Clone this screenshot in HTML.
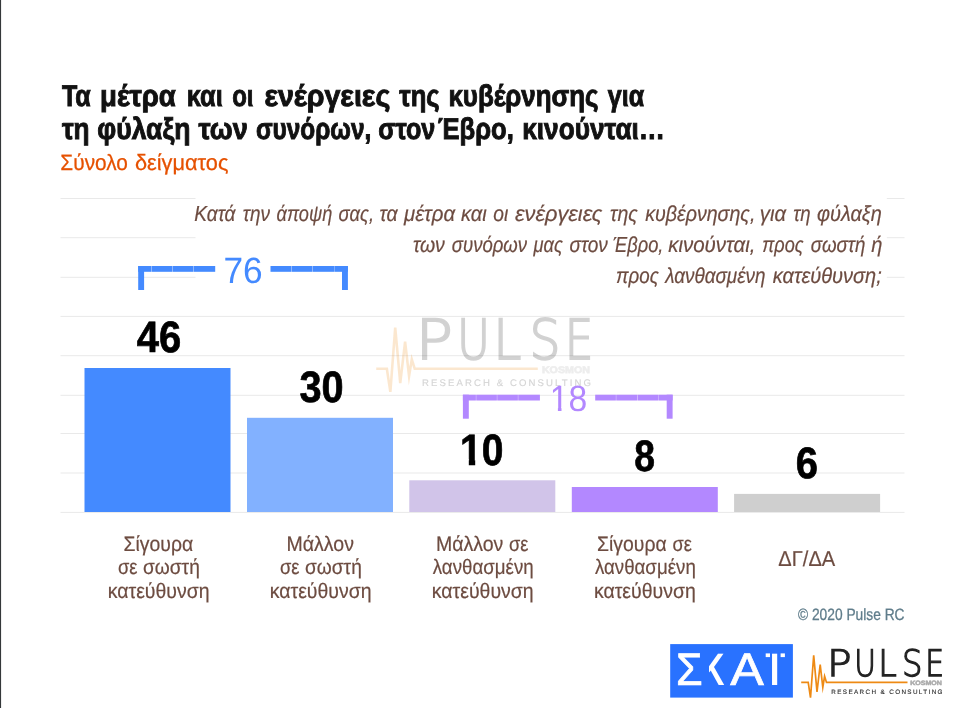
<!DOCTYPE html>
<html lang="el">
<head>
<meta charset="utf-8">
<title>Pulse RC – Έβρος</title>
<style>
html,body{margin:0;padding:0;background:#fff;}
body{width:954px;height:708px;overflow:hidden;font-family:"Liberation Sans",sans-serif;}
svg{display:block;}
svg text{font-family:"Liberation Sans",sans-serif;text-rendering:geometricPrecision;}
</style>
</head>
<body>
<svg width="954" height="708" viewBox="0 0 954 708">
<rect x="0" y="0" width="954" height="708" fill="#ffffff"/>
<!-- left frame edge -->
<rect x="0" y="0" width="1.08" height="708" fill="#34383a"/>
<!-- gridlines -->
<g fill="#e9e9e9">
<rect x="60.5" y="198" width="844" height="1"/>
<rect x="60.5" y="237.2" width="844" height="1"/>
<rect x="60.5" y="276.8" width="844" height="1"/>
<rect x="60.5" y="315.9" width="844" height="1"/>
<rect x="60.5" y="355.2" width="844" height="1"/>
<rect x="60.5" y="394.8" width="844" height="1"/>
<rect x="60.5" y="433" width="844" height="1"/>
<rect x="60.5" y="472.5" width="844" height="1"/>
<rect x="60.5" y="511.9" width="844" height="1"/>
</g>
<!-- question text backdrop -->
<rect x="195.5" y="190" width="691.3" height="100" fill="#ffffff"/>
<!-- watermark -->
<g opacity="0.2" transform="translate(-841.6,-668.5) scale(1.52)">
<path d="M801.2 682.4 H808.2 L810.5 697.6 L813.7 655.3 L817 691.9 L820.2 664.5 L822.8 687.3 L824.6 676.3 L826.5 682.4 H907.5" fill="none" stroke="#EE8A14" stroke-width="1.7" stroke-linejoin="miter" stroke-miterlimit="8"/>
<text font-size="36.4" style='font-family:"DejaVu Sans Light", "DejaVu Sans", sans-serif' fill="#222222" stroke="#222222" stroke-width="1.3"><tspan x="826.99" y="675.8" textLength="24.64" lengthAdjust="spacingAndGlyphs">P</tspan><tspan x="854.35" textLength="21.71" lengthAdjust="spacingAndGlyphs">U</tspan><tspan x="878.28" textLength="18.51" lengthAdjust="spacingAndGlyphs">L</tspan><tspan x="901.99" textLength="20.39" lengthAdjust="spacingAndGlyphs">S</tspan><tspan x="925.23" textLength="18.81" lengthAdjust="spacingAndGlyphs">E</tspan></text>
<text x="910.2" y="685.1" font-size="6.3" font-weight="700" fill="#ababab" stroke="#ababab" stroke-width="0.5" textLength="31.6" lengthAdjust="spacingAndGlyphs">KOSMON</text>
<text x="831.3" y="694" font-size="6.3" fill="#2b2b2b" stroke="#2b2b2b" stroke-width="0.12" textLength="111.2" lengthAdjust="spacing">RESEARCH &amp; CONSULTING</text>
</g>
<!-- bars -->
<rect x="84.5" y="368" width="146" height="144" fill="#448AFF"/>
<rect x="247" y="417.8" width="146" height="94.2" fill="#82B1FF"/>
<rect x="409.3" y="480.3" width="146" height="31.7" fill="#D1C4E9"/>
<rect x="571.8" y="487" width="146" height="25" fill="#B388FF"/>
<rect x="734.1" y="493.9" width="146" height="18.1" fill="#CFCFCF"/>
<!-- sum brackets -->
<g fill="#448AFF">
<rect x="138.2" y="266" width="5.9" height="24"/>
<rect x="138.2" y="266" width="13" height="5.8"/>
<rect x="151.5" y="266" width="20.7" height="5.8"/>
<rect x="172.5" y="266" width="20.7" height="5.8"/>
<rect x="193.5" y="266" width="21.7" height="5.8"/>
<rect x="270.5" y="266" width="20.7" height="5.8"/>
<rect x="291.5" y="266" width="21" height="5.8"/>
<rect x="312.8" y="266" width="21.2" height="5.8"/>
<rect x="334.3" y="266" width="13.6" height="5.8"/>
<rect x="342" y="266" width="5.9" height="24"/>
</g>
<g fill="#B388FF">
<rect x="462.9" y="394.7" width="5.9" height="24"/>
<rect x="462.9" y="394.7" width="13" height="5.8"/>
<rect x="476.2" y="394.7" width="20.7" height="5.8"/>
<rect x="497.2" y="394.7" width="20.7" height="5.8"/>
<rect x="518.2" y="394.7" width="21.7" height="5.8"/>
<rect x="595.2" y="394.7" width="20.7" height="5.8"/>
<rect x="616.2" y="394.7" width="21" height="5.8"/>
<rect x="637.5" y="394.7" width="21.2" height="5.8"/>
<rect x="659" y="394.7" width="13.6" height="5.8"/>
<rect x="666.7" y="394.7" width="5.9" height="24"/>
</g>
<!-- text -->
<text font-size="30" font-weight="700" fill="#111111" stroke="#111111" stroke-width="0.95"><tspan x="61.91" y="106" textLength="28.81" lengthAdjust="spacingAndGlyphs">Τα</tspan> <tspan x="100.12" textLength="75.65" lengthAdjust="spacingAndGlyphs">μέτρα</tspan> <tspan x="186.83" textLength="35.88" lengthAdjust="spacingAndGlyphs">και</tspan> <tspan x="232.2" textLength="21.34" lengthAdjust="spacingAndGlyphs">οι</tspan> <tspan x="264.42" textLength="125.87" lengthAdjust="spacingAndGlyphs">ενέργειες</tspan> <tspan x="399.31" textLength="40.28" lengthAdjust="spacingAndGlyphs">της</tspan> <tspan x="448.41" textLength="150.08" lengthAdjust="spacingAndGlyphs">κυβέρνησης</tspan> <tspan x="607.82" textLength="36.24" lengthAdjust="spacingAndGlyphs">για</tspan></text>
<text font-size="30" font-weight="700" fill="#111111" stroke="#111111" stroke-width="0.95"><tspan x="61.92" y="139" textLength="27.64" lengthAdjust="spacingAndGlyphs">τη</tspan> <tspan x="97.34" textLength="93.08" lengthAdjust="spacingAndGlyphs">φύλαξη</tspan> <tspan x="198.43" textLength="49.34" lengthAdjust="spacingAndGlyphs">των</tspan> <tspan x="255.89" textLength="115.47" lengthAdjust="spacingAndGlyphs">συνόρων,</tspan> <tspan x="378.17" textLength="57.14" lengthAdjust="spacingAndGlyphs">στον</tspan> <tspan x="437.79" textLength="75.99" lengthAdjust="spacingAndGlyphs">Έβρο,</tspan> <tspan x="522.19" textLength="142.87" lengthAdjust="spacingAndGlyphs">κινούνται…</tspan></text>
<text font-size="22.1" fill="#E65100" stroke="#E65100" stroke-width="0.25"><tspan x="60.36" y="170" textLength="67.56" lengthAdjust="spacingAndGlyphs">Σύνολο</tspan> <tspan x="134.96" textLength="93.5" lengthAdjust="spacingAndGlyphs">δείγματος</tspan></text>
<text font-size="21.7" font-style="italic" fill="#6D4C41" stroke="#6D4C41" stroke-width="0.2"><tspan x="194.16" y="221" textLength="41.3" lengthAdjust="spacingAndGlyphs">Κατά</tspan> <tspan x="242.84" textLength="27.16" lengthAdjust="spacingAndGlyphs">την</tspan> <tspan x="276.58" textLength="55.73" lengthAdjust="spacingAndGlyphs">άποψή</tspan> <tspan x="338.38" textLength="35.66" lengthAdjust="spacingAndGlyphs">σας,</tspan> <tspan x="379.42" textLength="18.17" lengthAdjust="spacingAndGlyphs">τα</tspan> <tspan x="403.97" textLength="51.1" lengthAdjust="spacingAndGlyphs">μέτρα</tspan> <tspan x="460.97" textLength="25.79" lengthAdjust="spacingAndGlyphs">και</tspan> <tspan x="493.26" textLength="14.97" lengthAdjust="spacingAndGlyphs">οι</tspan> <tspan x="515.05" textLength="87.17" lengthAdjust="spacingAndGlyphs">ενέργειες</tspan> <tspan x="610.12" textLength="27.63" lengthAdjust="spacingAndGlyphs">της</tspan> <tspan x="645.17" textLength="110.23" lengthAdjust="spacingAndGlyphs">κυβέρνησης,</tspan> <tspan x="759.86" textLength="26.26" lengthAdjust="spacingAndGlyphs">για</tspan> <tspan x="793.26" textLength="17.32" lengthAdjust="spacingAndGlyphs">τη</tspan> <tspan x="816.94" textLength="64.89" lengthAdjust="spacingAndGlyphs">φύλαξη</tspan> <tspan x="412.93" y="252" textLength="31.92" lengthAdjust="spacingAndGlyphs">των</tspan> <tspan x="451.77" textLength="75.29" lengthAdjust="spacingAndGlyphs">συνόρων</tspan> <tspan x="533.52" textLength="29.33" lengthAdjust="spacingAndGlyphs">μας</tspan> <tspan x="569.46" textLength="38.38" lengthAdjust="spacingAndGlyphs">στον</tspan> <tspan x="612.87" textLength="50.54" lengthAdjust="spacingAndGlyphs">Έβρο,</tspan> <tspan x="668.16" textLength="87.27" lengthAdjust="spacingAndGlyphs">κινούνται,</tspan> <tspan x="762.28" textLength="41.28" lengthAdjust="spacingAndGlyphs">προς</tspan> <tspan x="810.67" textLength="54.64" lengthAdjust="spacingAndGlyphs">σωστή</tspan> <tspan x="871.37" textLength="11.17" lengthAdjust="spacingAndGlyphs">ή</tspan> <tspan x="616.05" y="283" textLength="42.8" lengthAdjust="spacingAndGlyphs">προς</tspan> <tspan x="665.17" textLength="100.26" lengthAdjust="spacingAndGlyphs">λανθασμένη</tspan> <tspan x="772.77" textLength="108.98" lengthAdjust="spacingAndGlyphs">κατεύθυνση;</tspan></text>
<text font-size="21" fill="#6D4C41" stroke="#6D4C41" stroke-width="0.2"><tspan x="123.53" y="551" textLength="69.6" lengthAdjust="spacingAndGlyphs">Σίγουρα</tspan> <tspan x="117.89" y="574" textLength="19.54" lengthAdjust="spacingAndGlyphs">σε</tspan> <tspan x="142.97" textLength="56.87" lengthAdjust="spacingAndGlyphs">σωστή</tspan> <tspan x="107.69" y="598" textLength="101.91" lengthAdjust="spacingAndGlyphs">κατεύθυνση</tspan></text>
<text font-size="21" fill="#6D4C41" stroke="#6D4C41" stroke-width="0.2"><tspan x="286.56" y="551" textLength="67.39" lengthAdjust="spacingAndGlyphs">Μάλλον</tspan> <tspan x="279.89" y="574" textLength="19.54" lengthAdjust="spacingAndGlyphs">σε</tspan> <tspan x="304.97" textLength="56.87" lengthAdjust="spacingAndGlyphs">σωστή</tspan> <tspan x="269.69" y="598" textLength="101.91" lengthAdjust="spacingAndGlyphs">κατεύθυνση</tspan></text>
<text font-size="21" fill="#6D4C41" stroke="#6D4C41" stroke-width="0.2"><tspan x="435.96" y="551" textLength="67.39" lengthAdjust="spacingAndGlyphs">Μάλλον</tspan> <tspan x="508.9" textLength="19.44" lengthAdjust="spacingAndGlyphs">σε</tspan> <tspan x="432.8" y="574" textLength="100.91" lengthAdjust="spacingAndGlyphs">λανθασμένη</tspan> <tspan x="431.79" y="598" textLength="101.91" lengthAdjust="spacingAndGlyphs">κατεύθυνση</tspan></text>
<text font-size="21" fill="#6D4C41" stroke="#6D4C41" stroke-width="0.2"><tspan x="597.03" y="551" textLength="69.6" lengthAdjust="spacingAndGlyphs">Σίγουρα</tspan> <tspan x="672.5" textLength="19.44" lengthAdjust="spacingAndGlyphs">σε</tspan> <tspan x="594.9" y="574" textLength="100.91" lengthAdjust="spacingAndGlyphs">λανθασμένη</tspan> <tspan x="593.89" y="598" textLength="101.91" lengthAdjust="spacingAndGlyphs">κατεύθυνση</tspan></text>
<text x="778.33" y="566" font-size="21.5" fill="#6D4C41" stroke="#6D4C41" stroke-width="0.2" textLength="56.97" lengthAdjust="spacingAndGlyphs">ΔΓ/ΔΑ</text>
<text x="136.87" y="352" font-size="43.9" font-weight="700" fill="#000000" stroke="#000000" stroke-width="0.7" textLength="44.51" lengthAdjust="spacingAndGlyphs">46</text>
<text x="299.45" y="402" font-size="43.9" font-weight="700" fill="#000000" stroke="#000000" stroke-width="0.7" textLength="44.15" lengthAdjust="spacingAndGlyphs">30</text>
<text x="460" y="465" font-size="43.9" font-weight="700" fill="#000000" stroke="#000000" stroke-width="0.7" textLength="43.38" lengthAdjust="spacingAndGlyphs">10</text>
<text x="634.35" y="471" font-size="43.9" font-weight="700" fill="#000000" stroke="#000000" stroke-width="0.7" textLength="20.73" lengthAdjust="spacingAndGlyphs">8</text>
<text x="795.86" y="478" font-size="43.9" font-weight="700" fill="#000000" stroke="#000000" stroke-width="0.7" textLength="22.31" lengthAdjust="spacingAndGlyphs">6</text>
<text x="223.41" y="283" font-size="36.6" fill="#448AFF" textLength="39.21" lengthAdjust="spacingAndGlyphs">76</text>
<text x="549.67" y="411" font-size="36.6" fill="#B388FF" textLength="37.45" lengthAdjust="spacingAndGlyphs">18</text>
<text x="798" y="620" font-size="16.4" fill="#607D8B" stroke="#607D8B" stroke-width="0.3" textLength="106.53" lengthAdjust="spacingAndGlyphs">© 2020 Pulse RC</text>
<!-- trim the foot serif of the digit 1 so it matches the sans style of the source -->
<rect x="460.5" y="459.2" width="8.3" height="8" fill="#ffffff"/><rect x="475.2" y="459.2" width="6.9" height="8" fill="#ffffff"/>
<rect x="551" y="407.2" width="6.9" height="5" fill="#ffffff"/><rect x="561.5" y="407.2" width="6.8" height="5" fill="#ffffff"/>
<!-- SKAI logo -->
<rect x="670.2" y="644.1" width="122.7" height="53.5" fill="#2972FF"/>
<clipPath id="skaiclip"><rect x="670" y="640" width="32.2" height="60"/><rect x="709" y="652.6" width="84" height="47"/></clipPath>
<text y="685" font-size="45.6" fill="#ffffff" clip-path="url(#skaiclip)"><tspan x="676" textLength="26.67" lengthAdjust="spacingAndGlyphs" stroke="#ffffff" stroke-width="0.7">Σ</tspan><tspan x="701.28" textLength="23.22" lengthAdjust="spacingAndGlyphs" font-weight="700">Κ</tspan><tspan x="730.17" textLength="33.57" lengthAdjust="spacingAndGlyphs" stroke="#ffffff" stroke-width="0.7">Α</tspan><tspan x="766.9" textLength="15.21" lengthAdjust="spacingAndGlyphs">Ϊ</tspan></text>
<rect x="765.7" y="653.4" width="4.3" height="3.7" fill="#ffffff"/><rect x="780.6" y="653.4" width="4.3" height="3.7" fill="#ffffff"/>
<!-- Pulse RC logo -->
<g>
<path d="M801.2 682.4 H808.2 L810.5 697.6 L813.7 655.3 L817 691.9 L820.2 664.5 L822.8 687.3 L824.6 676.3 L826.5 682.4 H907.5" fill="none" stroke="#EE8A14" stroke-width="1.7" stroke-linejoin="miter" stroke-miterlimit="8"/>
<text font-size="36.4" style='font-family:"DejaVu Sans Light", "DejaVu Sans", sans-serif' fill="#222222" stroke="#222222" stroke-width="1.3"><tspan x="826.99" y="675.8" textLength="24.64" lengthAdjust="spacingAndGlyphs">P</tspan><tspan x="854.35" textLength="21.71" lengthAdjust="spacingAndGlyphs">U</tspan><tspan x="878.28" textLength="18.51" lengthAdjust="spacingAndGlyphs">L</tspan><tspan x="901.99" textLength="20.39" lengthAdjust="spacingAndGlyphs">S</tspan><tspan x="925.23" textLength="18.81" lengthAdjust="spacingAndGlyphs">E</tspan></text>
<text x="910.2" y="685.1" font-size="6.3" font-weight="700" fill="#ababab" stroke="#ababab" stroke-width="0.5" textLength="31.6" lengthAdjust="spacingAndGlyphs">KOSMON</text>
<text x="831.3" y="694" font-size="6.3" fill="#2b2b2b" stroke="#2b2b2b" stroke-width="0.12" textLength="111.2" lengthAdjust="spacing">RESEARCH &amp; CONSULTING</text>
</g>
</svg>
</body>
</html>
